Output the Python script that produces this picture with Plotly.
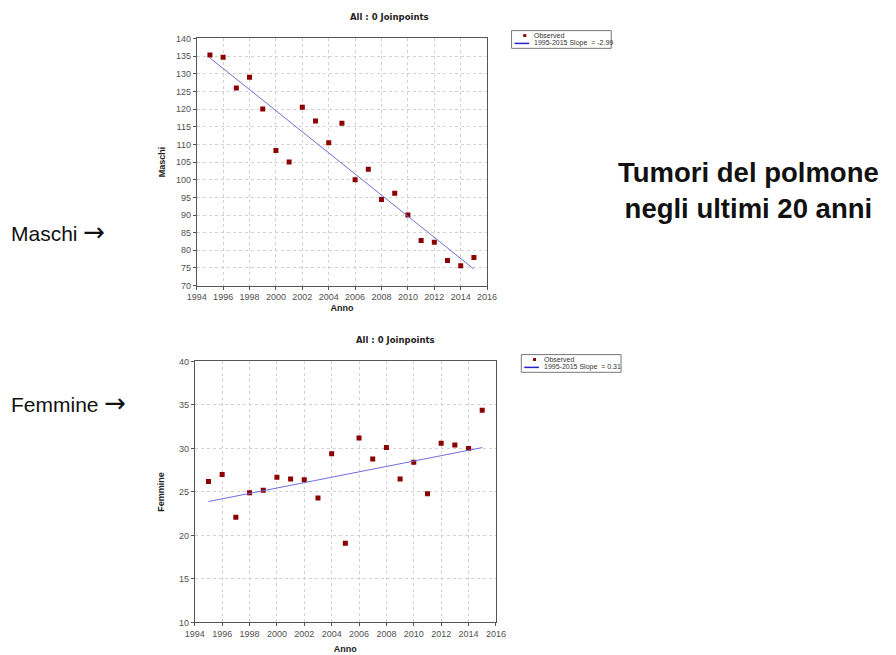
import plotly.graph_objects as go

W, H = 896, 655

years = list(range(1995, 2016))
maschi = [135.3, 134.7, 126.0, 129.0, 120.0, 108.3, 105.0, 120.5, 116.6, 110.5, 116.0,
          100.0, 103.0, 94.4, 96.2, 90.0, 82.8, 82.3, 77.1, 75.6, 78.0]
femmine = [26.2, 27.0, 22.1, 24.9, 25.2, 26.7, 26.5, 26.4, 24.3, 29.4, 19.1,
           31.2, 28.8, 30.1, 26.5, 28.4, 24.8, 30.6, 30.4, 30.0, 34.4]
fit_years = [1995, 2015]
maschi_fit = [134.5, 74.7]
femmine_fit = [23.9, 30.1]
maschi_label = "1995-2015 Slope  = -2.99"
femmine_label = "1995-2015 Slope  = 0.31"
x_ticks = list(range(1994, 2017, 2))

FONT = "Liberation Sans, Arial, sans-serif"
TITLE_FONT = "DejaVu Sans, Verdana, sans-serif"
MARK = "#8b0000"
LINE = "#6f6fdc"


def px(x):
    return x / W


def py(y):
    return 1 - y / H


fig = go.Figure()
fig.add_trace(go.Scatter(x=years, y=maschi, mode="markers",
                         marker=dict(symbol="square", size=5, color=MARK),
                         xaxis="x", yaxis="y", showlegend=False))
fig.add_trace(go.Scatter(x=fit_years, y=maschi_fit, mode="lines",
                         line=dict(color=LINE, width=1),
                         xaxis="x", yaxis="y", showlegend=False))
fig.add_trace(go.Scatter(x=years, y=femmine, mode="markers",
                         marker=dict(symbol="square", size=5, color=MARK),
                         xaxis="x2", yaxis="y2", showlegend=False))
fig.add_trace(go.Scatter(x=fit_years, y=femmine_fit, mode="lines",
                         line=dict(color=LINE, width=1),
                         xaxis="x2", yaxis="y2", showlegend=False))

axis_common = dict(showline=True, mirror=True, linecolor="#555555", linewidth=1,
                   showgrid=True, gridcolor="#d2d2d2", griddash="dot", gridwidth=1,
                   zeroline=False, ticks="outside", ticklen=3, tickcolor="#555555",
                   tickfont=dict(family=FONT, size=9, color="#505050"))

fig.update_layout(
    width=W, height=H,
    margin=dict(l=0, r=0, t=0, b=0),
    paper_bgcolor="white", plot_bgcolor="white",
    xaxis=dict(domain=[px(191), px(488)], range=[1994, 2016], tickvals=x_ticks,
               anchor="y", title=dict(text="<b>Anno</b>", standoff=3,
                                      font=dict(family=FONT, size=9, color="#222")),
               **axis_common),
    yaxis=dict(domain=[py(285), py(34)], range=[70, 140], dtick=5, anchor="x",
               title=dict(text="<b>Maschi</b>", standoff=8,
                          font=dict(family=FONT, size=9, color="#222")),
               **axis_common),
    xaxis2=dict(domain=[px(189), px(497)], range=[1994, 2016], tickvals=x_ticks,
                anchor="y2", title=dict(text="<b>Anno</b>", standoff=7,
                                        font=dict(family=FONT, size=9, color="#222")),
                **axis_common),
    yaxis2=dict(domain=[py(627), py(362)], range=[10, 40], dtick=5, anchor="x2",
                title=dict(text="<b>Femmine</b>", standoff=12,
                           font=dict(family=FONT, size=9, color="#222")),
                **axis_common),
)

ann = []
shapes = []


def text(t, x, y, size, family=FONT, xanchor="center", color="#111", align="center"):
    ann.append(dict(text=t, x=px(x), y=py(y), xref="paper", yref="paper",
                    xanchor=xanchor, yanchor="middle", showarrow=False, align=align,
                    borderpad=0, font=dict(family=family, size=size, color=color)))


# chart titles
text("<b>All : 0 Joinpoints</b>", 388, 12, 8.5, family=TITLE_FONT, color="#222")
text("<b>All : 0 Joinpoints</b>", 394, 340, 8.5, family=TITLE_FONT, color="#222")

# side labels
arrow = "<span style='font-family:DejaVu Sans;font-size:26px'>\u2192</span>"
text("Maschi " + arrow, 0, 231, 21, xanchor="left")
text("Femmine " + arrow, 0, 404, 21, xanchor="left")

# big title
text("<b>Tumori del polmone<br>negli ultimi 20 anni</b>", 755, 188, 27.5)


def legend(x0, y0, x1, y1, label):
    shapes.append(dict(type="rect", xref="paper", yref="paper",
                       x0=px(x0), x1=px(x1), y0=py(y1), y1=py(y0),
                       line=dict(color="#777777", width=1), fillcolor="white"))
    my = y0 + 5
    ly = y0 + 13
    shapes.append(dict(type="rect", xref="paper", yref="paper",
                       x0=px(x0 + 12), x1=px(x0 + 15), y0=py(my + 1.5), y1=py(my - 1.5),
                       line=dict(width=0), fillcolor=MARK))
    shapes.append(dict(type="line", xref="paper", yref="paper",
                       x0=px(x0 + 3), x1=px(x0 + 18), y0=py(ly), y1=py(ly),
                       line=dict(color="#2222cc", width=1.5)))
    text("Observed", x0 + 22, my, 7, xanchor="left", color="#333")
    text(label, x0 + 22, ly, 7, xanchor="left", color="#333")


legend(513, 26, 615, 44, maschi_label)
legend(523, 355, 625, 373, femmine_label)

fig.update_layout(annotations=ann, shapes=shapes)
fig.write_html("out.html", config={"displayModeBar": False},
               post_script="document.body.style.margin='0';document.body.style.overflow='hidden';")
